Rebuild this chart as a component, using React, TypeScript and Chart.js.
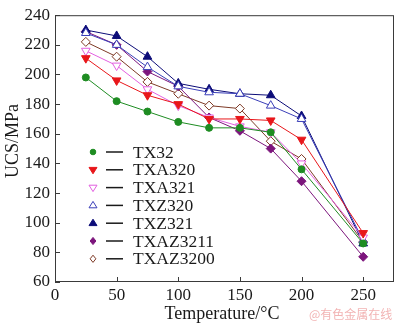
import React, { useEffect, useRef } from "react";
import { Chart, registerables } from "chart.js";

Chart.register(...registerables);

const temperatures = [25, 50, 75, 100, 125, 150, 175, 200, 250];
const tx32 = [198, 182, 175, 168, 164, 164, 161, 136, 86];
const txa320 = [211, 196, 186, 180, 170, 170, 169, 156, 93];
const txa321 = [216, 206, 190, 179, 171, 165, 161, 140, 90];
const txz320 = [228, 220, 205, 192, 188, 187, 179, 170, 88];
const txz321 = [230, 226, 212, 194, 190, 187, 186, 172, 86];
const txaz3211 = [229, 220, 202, 192, 171, 162, 150, 128, 77];
const txaz3200 = [222, 212, 195, 187, 179, 177, 155, 143, 87];

const seriesNames = ["TX32", "TXA320", "TXA321", "TXZ320", "TXZ321", "TXAZ3211", "TXAZ3200"];
const seriesValues = [tx32, txa320, txa321, txz320, txz321, txaz3211, txaz3200];
const xTicks = [0, 50, 100, 150, 200, 250];
const yTicks = [60, 80, 100, 120, 140, 160, 180, 200, 220, 240];

type Marker = { shape: "circle" | "down" | "up" | "diamond"; filled: boolean; color: string; r: number };
const markers: Marker[] = [
  { shape: "circle", filled: true, color: "#1e8c22", r: 3.5 },
  { shape: "down", filled: true, color: "#e8161a", r: 5 },
  { shape: "down", filled: false, color: "#e35fe0", r: 5 },
  { shape: "up", filled: false, color: "#3b3fb8", r: 5 },
  { shape: "up", filled: true, color: "#0c0c78", r: 5 },
  { shape: "diamond", filled: true, color: "#7c157c", r: 4.5 },
  { shape: "diamond", filled: false, color: "#7e3a26", r: 4.5 },
];

const SERIF = "'Liberation Serif', 'Times New Roman', serif";

function drawMarker(ctx: CanvasRenderingContext2D, m: Marker, x: number, y: number, r: number) {
  ctx.save();
  ctx.beginPath();
  if (m.shape === "circle") {
    ctx.arc(x, y, r, 0, Math.PI * 2);
  } else if (m.shape === "down") {
    ctx.moveTo(x - r, y - r * 0.6);
    ctx.lineTo(x + r, y - r * 0.6);
    ctx.lineTo(x, y + r);
    ctx.closePath();
  } else if (m.shape === "up") {
    ctx.moveTo(x - r, y + r * 0.6);
    ctx.lineTo(x + r, y + r * 0.6);
    ctx.lineTo(x, y - r);
    ctx.closePath();
  } else {
    ctx.moveTo(x, y - r);
    ctx.lineTo(x + r * 0.8, y);
    ctx.lineTo(x, y + r);
    ctx.lineTo(x - r * 0.8, y);
    ctx.closePath();
  }
  ctx.fillStyle = m.filled ? m.color : "#ffffff";
  ctx.fill();
  ctx.strokeStyle = m.color;
  ctx.lineWidth = 1;
  ctx.stroke();
  ctx.restore();
}

const decorPlugin = {
  id: "decor",
  afterDatasetsDraw(chart: any) {
    const ctx: CanvasRenderingContext2D = chart.ctx;
    const area = chart.chartArea;
    const xs = chart.scales.x;
    const ys = chart.scales.y;
    ctx.save();
    // frame
    ctx.strokeStyle = "#3a3a3a";
    ctx.lineWidth = 1;
    ctx.strokeRect(area.left + 0.5, area.top + 0.5, area.right - area.left - 1, area.bottom - area.top - 1);
    // inward ticks
    ctx.beginPath();
    for (const v of xTicks) {
      const px = Math.round(xs.getPixelForValue(v)) + 0.5;
      ctx.moveTo(px, area.bottom);
      ctx.lineTo(px, area.bottom - 5);
    }
    for (const v of yTicks) {
      const py = Math.round(ys.getPixelForValue(v)) + 0.5;
      ctx.moveTo(area.left, py);
      ctx.lineTo(area.left + 5, py);
    }
    ctx.stroke();
    // axis titles
    ctx.fillStyle = "#1a1a1a";
    ctx.font = `18px ${SERIF}`;
    ctx.textAlign = "center";
    ctx.textBaseline = "middle";
    ctx.fillText("Temperature/\u00B0C", 222, 314);
    ctx.save();
    ctx.translate(13, 141);
    ctx.rotate(-Math.PI / 2);
    ctx.fillText("UCS/MPa", 0, 0);
    ctx.restore();
    // legend
    ctx.textAlign = "left";
    ctx.font = `17.5px ${SERIF}`;
    seriesNames.forEach((name, i) => {
      const y = 152 + i * 17.8;
      drawMarker(ctx, markers[i], 93, y, markers[i].r * 0.8);
      ctx.strokeStyle = "#1a1a1a";
      ctx.lineWidth = 1.5;
      ctx.beginPath();
      ctx.moveTo(106, y);
      ctx.lineTo(123, y);
      ctx.stroke();
      ctx.fillStyle = "#1a1a1a";
      ctx.fillText(name, 133, y + 1);
    });
    // watermark
    ctx.font = `12px 'Noto Sans CJK SC', sans-serif`;
    ctx.fillStyle = "#f2b4b4";
    ctx.textAlign = "left";
    ctx.fillText("@有色金属在线", 309, 314);
    ctx.restore();
  },
};

export default function App() {
  const ref = useRef<HTMLCanvasElement>(null);
  useEffect(() => {
    if (!ref.current) return;
    const datasets = seriesNames.map((name, i) => {
      const m = markers[i];
      return {
        label: name,
        data: temperatures.map((t, j) => ({ x: t, y: seriesValues[i][j] })),
        borderColor: m.color,
        backgroundColor: m.filled ? m.color : "#ffffff",
        pointBorderColor: m.color,
        pointBackgroundColor: m.filled ? m.color : "#ffffff",
        borderWidth: 1,
        pointBorderWidth: 1,
        pointRadius: m.r,
        pointStyle: m.shape === "circle" ? "circle" : m.shape === "diamond" ? "rectRot" : "triangle",
        rotation: m.shape === "down" ? 180 : 0,
        tension: 0,
      };
    });
    const chart = new Chart(ref.current, {
      type: "line",
      data: { datasets } as any,
      options: {
        responsive: false,
        animation: false,
        layout: { padding: { left: 0, right: 1, top: 6, bottom: 0 } },
        plugins: { legend: { display: false }, tooltip: { enabled: false } },
        scales: {
          x: {
            type: "linear",
            min: 0,
            max: 275,
            grid: { display: false, drawTicks: false },
            border: { display: false },
            afterFit: (s: any) => { s.height = 45; },
            afterBuildTicks: (s: any) => { s.ticks = xTicks.map((v) => ({ value: v })); },
            ticks: {
              autoSkip: false,
              padding: 3,
              color: "#1a1a1a",
              font: { family: SERIF, size: 17 },
            },
          },
          y: {
            type: "linear",
            min: 60,
            max: 240,
            grid: { display: false, drawTicks: false },
            border: { display: false },
            afterFit: (s: any) => { s.width = 55; },
            afterBuildTicks: (s: any) => { s.ticks = yTicks.map((v) => ({ value: v })); },
            ticks: {
              autoSkip: false,
              padding: 5,
              color: "#1a1a1a",
              font: { family: SERIF, size: 17 },
            },
          },
        },
      } as any,
      plugins: [decorPlugin],
    });
    return () => chart.destroy();
  }, []);
  return (
    <div style={{ position: "absolute", left: 0, top: 0, width: 400, height: 327, background: "#fff" }}>
      <canvas ref={ref} width={400} height={327} />
    </div>
  );
}
